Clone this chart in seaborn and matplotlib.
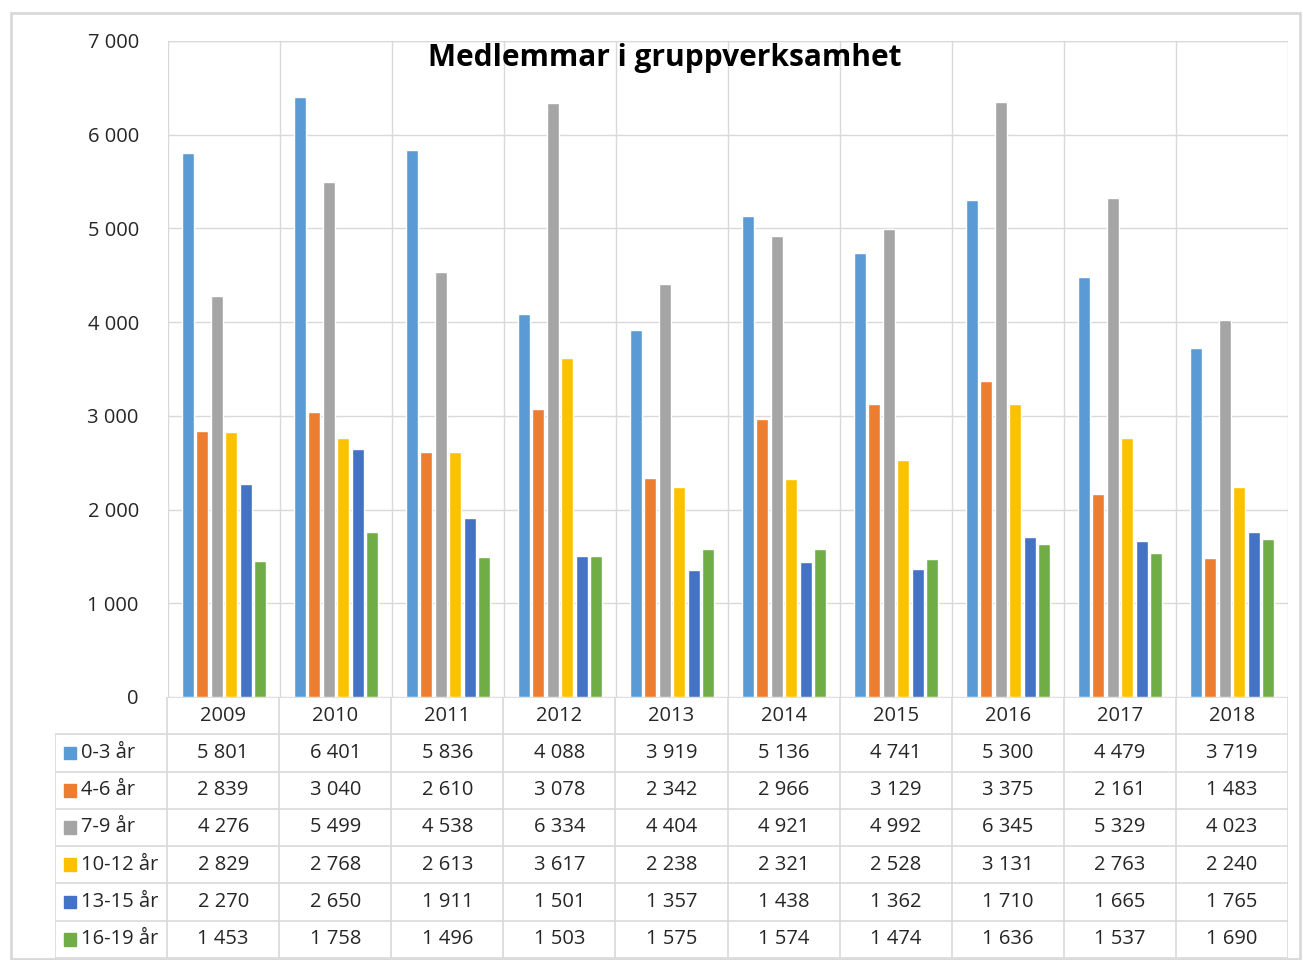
import numpy as np
import pandas as pd
import seaborn as sns
import matplotlib.pyplot as plt
from matplotlib.patches import Rectangle

years = ["2009", "2010", "2011", "2012", "2013", "2014", "2015", "2016", "2017", "2018"]
groups = ["0-3 år", "4-6 år", "7-9 år", "10-12 år", "13-15 år", "16-19 år"]
v_0_3 = [5801, 6401, 5836, 4088, 3919, 5136, 4741, 5300, 4479, 3719]
v_4_6 = [2839, 3040, 2610, 3078, 2342, 2966, 3129, 3375, 2161, 1483]
v_7_9 = [4276, 5499, 4538, 6334, 4404, 4921, 4992, 6345, 5329, 4023]
v_10_12 = [2829, 2768, 2613, 3617, 2238, 2321, 2528, 3131, 2763, 2240]
v_13_15 = [2270, 2650, 1911, 1501, 1357, 1438, 1362, 1710, 1665, 1765]
v_16_19 = [1453, 1758, 1496, 1503, 1575, 1574, 1474, 1636, 1537, 1690]
colors = ["#5B9BD5", "#ED7D31", "#A5A5A5", "#FFC000", "#4472C4", "#70AD47"]

series = [v_0_3, v_4_6, v_7_9, v_10_12, v_13_15, v_16_19]
df = pd.DataFrame([(y, g, s[i]) for g, s in zip(groups, series) for i, y in enumerate(years)],
                  columns=["year", "group", "value"])

sns.set_style("white")
plt.rcParams["font.family"] = ["Open Sans", "DejaVu Sans"]

W, H = 1303, 960
fig = plt.figure(figsize=(W / 100, H / 100), dpi=100)

def px(x0, y0, x1, y1):
    # pixel box -> figure fraction rect
    return [x0 / W, 1 - y1 / H, (x1 - x0) / W, (y1 - y0) / H]

fig.patches.append(Rectangle((11 / W, 1 - 959 / H), 1289 / W, 946 / H, transform=fig.transFigure,
                             fill=False, edgecolor="#D9D9D9", linewidth=2))

grid_c = "#D9D9D9"
txt_c = "#262626"
fs = 14.5
ax = fig.add_axes(px(168, 41, 1288, 697))
sns.barplot(data=df, x="year", y="value", hue="group", palette=colors, ax=ax,
            width=0.78, gap=0.17, legend=False, saturation=1)
ax.set_xlim(-0.5, 9.5)
ax.set_ylim(0, 7000)
ax.set_yticks(range(0, 7001, 1000))
ax.set_yticklabels([f"{t:,}".replace(",", " ") for t in range(0, 7001, 1000)], fontsize=fs, color=txt_c)
ax.tick_params(axis="y", length=0, pad=21)
ax.set_xticks([])
ax.set_xlabel("")
ax.set_ylabel("")
for s in ax.spines.values():
    s.set_visible(False)
ax.grid(axis="y", color=grid_c, linewidth=1)
ax.set_axisbelow(True)
for xb in np.arange(-0.5, 10, 1):
    ax.axvline(xb, color=grid_c, linewidth=1, zorder=0)
ax.axhline(7000, color=grid_c, linewidth=1, zorder=0)
fig.text(665 / W, 1 - 58 / H, "Medlemmar i gruppverksamhet", ha="center", va="center",
         fontsize=21.5, fontweight="bold", color="black")

# data table below the chart
tab = fig.add_axes(px(55, 697, 1288, 958))
tab.set_xlim(-1.5, 9.5)
tab.set_ylim(7, 0)
tab.axis("off")
lc = dict(color=grid_c, linewidth=1.2)
for r in range(8):
    x0 = -0.5 if r == 0 else -1.5
    tab.plot([x0, 9.5], [r, r], **lc)
for xb in np.arange(-0.5, 10, 1):
    tab.plot([xb, xb], [0, 7], **lc)
tab.plot([-1.5, -1.5], [1, 7], **lc)
for i, y in enumerate(years):
    tab.text(i, 0.5, y, ha="center", va="center", fontsize=fs, color=txt_c)
for r, (g, s, c) in enumerate(zip(groups, series, colors)):
    yy = r + 1.5
    tab.add_patch(Rectangle((-1.42, yy - 0.17), 0.11, 0.34, color=c))
    tab.text(-1.27, yy, g, ha="left", va="center", fontsize=fs, color=txt_c)
    for i, v in enumerate(s):
        tab.text(i, yy, f"{v:,}".replace(",", " "), ha="center", va="center", fontsize=fs, color=txt_c)

fig.savefig("out.png", dpi=100)
